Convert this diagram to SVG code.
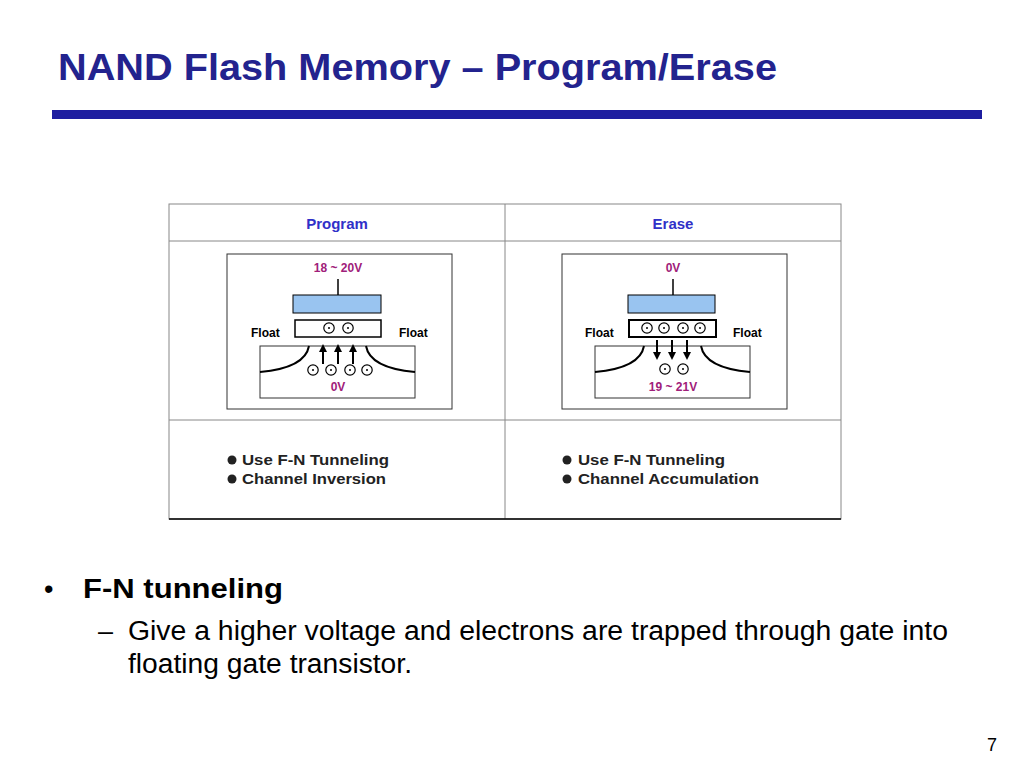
<svg xmlns="http://www.w3.org/2000/svg" width="1024" height="768" viewBox="0 0 1024 768">
<style>
.t{font-family:"Liberation Sans",Arial,sans-serif}
.s{font-family:"Liberation Sans",Arial,sans-serif;font-weight:bold;font-size:12px}
.v{fill:#a0207a}
.e{fill:#fff;stroke:#000;stroke-width:1.2}
.ln{stroke:#000;fill:none}
</style>
<defs>
<marker id="a" viewBox="0 0 10 10" refX="5" refY="5" markerWidth="4" markerHeight="4" orient="auto"><path d="M0,0L10,5L0,10z"/></marker>
<g id="el"><circle r="5.2" class="e"/><circle r="1"/></g>
</defs>
<rect width="1024" height="768" fill="#fff"/>
<text x="58" y="80" class="t" font-size="36" font-weight="bold" fill="#23238e" textLength="719" lengthAdjust="spacingAndGlyphs">NAND Flash Memory – Program/Erase</text>
<rect x="52" y="110" width="930" height="9" fill="#1e1ea0"/>
<g id="table">
<rect x="169" y="204" width="672" height="315" fill="#fff" stroke="#888"/>
<line x1="169" y1="241" x2="841" y2="241" stroke="#888"/>
<line x1="169" y1="420" x2="841" y2="420" stroke="#888"/>
<line x1="505" y1="204" x2="505" y2="519" stroke="#888"/>
<line x1="169" y1="519" x2="841" y2="519" stroke="#000" stroke-width="1.5"/>
<text x="337" y="229" class="t" font-size="15" font-weight="bold" fill="#3030c8" text-anchor="middle">Program</text>
<text x="673" y="229" class="t" font-size="15" font-weight="bold" fill="#3030c8" text-anchor="middle">Erase</text>
</g>
<g id="program">
<rect x="227" y="254" width="225" height="155" fill="#fff" stroke="#333"/>
<text x="338" y="272" class="s v" text-anchor="middle">18 ~ 20V</text>
<line x1="338" y1="279" x2="338" y2="295" class="ln" stroke-width="1.5"/>
<rect x="293" y="295" width="88" height="18" fill="#99c4f0" stroke="#000"/>
<rect x="295" y="320" width="86" height="17" fill="#fff" stroke="#000" stroke-width="1.5"/>
<use href="#el" x="329" y="328"/><use href="#el" x="348" y="328"/>
<text x="251" y="337" class="s">Float</text><text x="399" y="337" class="s">Float</text>
<rect x="260" y="346" width="155" height="52" fill="#fff" stroke="#333"/>
<path d="M260,372 Q305,368 309,346" class="ln" stroke-width="2"/>
<path d="M415,372 Q370,368 366,346" class="ln" stroke-width="2"/>
<g stroke="#000" stroke-width="2" marker-end="url(#a)"><line x1="323" y1="364" x2="323" y2="348"/><line x1="338" y1="364" x2="338" y2="348"/><line x1="353" y1="364" x2="353" y2="348"/></g>
<use href="#el" x="313" y="370"/><use href="#el" x="331" y="370"/><use href="#el" x="350" y="370"/><use href="#el" x="367" y="370"/>
<text x="338" y="391" class="s v" text-anchor="middle">0V</text>
</g>
<g id="erase">
<rect x="562" y="254" width="225" height="155" fill="#fff" stroke="#333"/>
<text x="673" y="272" class="s v" text-anchor="middle">0V</text>
<line x1="673" y1="279" x2="673" y2="295" class="ln" stroke-width="1.5"/>
<rect x="628" y="295" width="87" height="18" fill="#99c4f0" stroke="#000"/>
<rect x="629" y="320" width="87" height="17" fill="#fff" stroke="#000" stroke-width="2"/>
<use href="#el" x="647" y="328"/><use href="#el" x="664" y="328"/><use href="#el" x="683" y="328"/><use href="#el" x="700" y="328"/>
<text x="585" y="337" class="s">Float</text><text x="733" y="337" class="s">Float</text>
<rect x="595" y="346" width="155" height="52" fill="#fff" stroke="#333"/>
<path d="M595,372 Q640,368 644,346" class="ln" stroke-width="2"/>
<path d="M750,372 Q705,368 701,346" class="ln" stroke-width="2"/>
<g stroke="#000" stroke-width="2" marker-end="url(#a)"><line x1="657" y1="340" x2="657" y2="356"/><line x1="672" y1="340" x2="672" y2="356"/><line x1="687" y1="340" x2="687" y2="356"/></g>
<use href="#el" x="665" y="369"/><use href="#el" x="683" y="369"/>
<text x="673" y="391" class="s v" text-anchor="middle">19 ~ 21V</text>
</g>
<g id="notes" class="t" font-size="15" font-weight="bold" fill="#222">
<circle cx="232" cy="460" r="4.5"/><text x="242" y="465" textLength="147" lengthAdjust="spacingAndGlyphs">Use F-N Tunneling</text>
<circle cx="232" cy="479" r="4.5"/><text x="242" y="484" textLength="144" lengthAdjust="spacingAndGlyphs">Channel Inversion</text>
<circle cx="567" cy="460" r="4.5"/><text x="578" y="465" textLength="147" lengthAdjust="spacingAndGlyphs">Use F-N Tunneling</text>
<circle cx="567" cy="479" r="4.5"/><text x="578" y="484" textLength="181" lengthAdjust="spacingAndGlyphs">Channel Accumulation</text>
</g>
<g class="t" font-size="27">
<text x="44" y="598">•</text>
<text x="83" y="598" font-weight="bold" textLength="200" lengthAdjust="spacingAndGlyphs">F-N tunneling</text>
<text x="98" y="640">–</text>
<text x="128" y="640" textLength="820" lengthAdjust="spacingAndGlyphs">Give a higher voltage and electrons are trapped through gate into</text>
<text x="128" y="673" textLength="284" lengthAdjust="spacingAndGlyphs">floating gate transistor.</text>
</g>
<text x="997" y="751" class="t" font-size="18" text-anchor="end">7</text>
</svg>
